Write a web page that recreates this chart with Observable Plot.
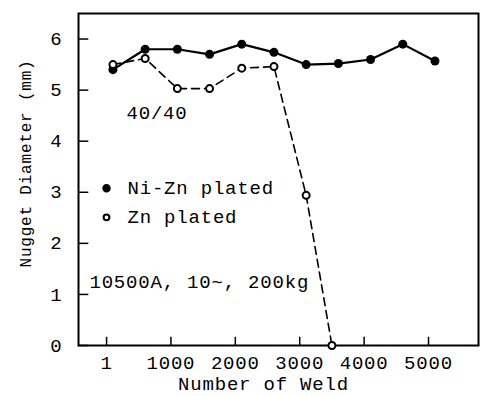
<!DOCTYPE html>
<html><head><meta charset="utf-8">
<script src="https://cdn.jsdelivr.net/npm/d3@7"></script>
<script src="https://cdn.jsdelivr.net/npm/@observablehq/plot@0.6"></script>
<style>
body{margin:0;background:#fff;}
svg{font-family:"Liberation Mono","DejaVu Sans Mono",monospace;}
svg text{letter-spacing:0.8px;}
</style></head>
<body><div id="chart"></div>
<script>
const weldNiZn = [100, 600, 1100, 1600, 2100, 2600, 3100, 3600, 4100, 4600, 5100];
const diamNiZn = [5.4, 5.8, 5.8, 5.7, 5.9, 5.74, 5.5, 5.52, 5.6, 5.9, 5.57];
const weldZn = [100, 600, 1100, 1600, 2100, 2600, 3100, 3500];
const diamZn = [5.5, 5.62, 5.03, 5.03, 5.43, 5.46, 2.94, 0];
const xTicks = [1, 1000, 2000, 3000, 4000, 5000];
const yTicks = [0, 1, 2, 3, 4, 5, 6];
const legendLabels = ["Ni-Zn plated", "Zn plated"];
const legendY = [3.08, 2.51];
const notes = [
  {text: "40/40", x: 310, y: 4.55},
  {text: "10500A, 10~, 200kg", x: -265, y: 1.24}
];

const niZn = weldNiZn.map((w, i) => ({x: w, y: diamNiZn[i]}));
const zn = weldZn.map((w, i) => ({x: w, y: diamZn[i]}));
const legend = legendLabels.map((t, i) => ({t, y: legendY[i], filled: i === 0}));

const fs = 19;
const chart = Plot.plot({
  width: 480, height: 396,
  marginLeft: 78, marginTop: 13, marginRight: 2, marginBottom: 51,
  style: {fontFamily: '"Liberation Mono","DejaVu Sans Mono",monospace', fontSize: fs + "px", color: "#000", background: "#fff"},
  x: {domain: [-435, 5776], label: null},
  y: {domain: [0, 6.5], label: null},
  marks: [
    Plot.frame({stroke: "#000", strokeWidth: 2}),
    Plot.axisX({ticks: xTicks, tickSize: 0, tickPadding: 10, tickFormat: d => String(d), fontSize: fs, label: null}),
    Plot.axisY({ticks: yTicks, tickSize: 0, tickPadding: 16, tickFormat: d => String(d), fontSize: fs, label: null}),
    Plot.ruleX(xTicks, {x: d => d, y1: 0, y2: 0.16, stroke: "#000", strokeWidth: 1.5}),
    Plot.ruleY(yTicks, {y: d => d, x1: -435, x2: -275, stroke: "#000", strokeWidth: 1.5}),
    Plot.line(zn, {x: "x", y: "y", stroke: "#000", strokeWidth: 1.6, strokeDasharray: "8,5"}),
    Plot.line(niZn, {x: "x", y: "y", stroke: "#000", strokeWidth: 2.2}),
    Plot.dot(niZn, {x: "x", y: "y", r: 4.5, fill: "#000"}),
    Plot.dot(zn, {x: "x", y: "y", r: 3.5, fill: "#fff", stroke: "#000", strokeWidth: 2}),
    Plot.dot(legend, {x: 0, y: "y", r: d => d.filled ? 4 : 3.2, fill: d => d.filled ? "#000" : "#fff", stroke: "#000", strokeWidth: 2}),
    Plot.text(legend, {x: 326, y: "y", text: "t", textAnchor: "start", fontSize: fs, fill: "#000"}),
    Plot.text(notes, {x: "x", y: "y", text: "text", textAnchor: "start", fontSize: fs, fill: "#000"}),
    Plot.text(["Nugget Diameter (mm)"], {frameAnchor: "left", textAnchor: "middle", lineAnchor: "middle", dx: -53, dy: -16, rotate: -90, text: d => d, fontSize: 16, fill: "#000"}),
    Plot.text(["Number of Weld"], {frameAnchor: "bottom", textAnchor: "middle", lineAnchor: "middle", dy: 38, dx: -15, text: d => d, fontSize: fs, fill: "#000"})
  ]
});
document.getElementById("chart").appendChild(chart);
</script></body></html>
